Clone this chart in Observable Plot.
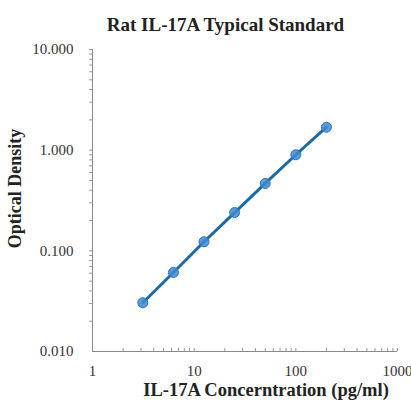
<!DOCTYPE html>
<html><head><meta charset="utf-8">
<script src="https://cdn.jsdelivr.net/npm/d3@7"></script>
<script src="https://cdn.jsdelivr.net/npm/@observablehq/plot@0.6"></script>
<style>
body{margin:0;background:#fff;}
#title{height:38px;line-height:50px;text-align:center;font-family:"Liberation Serif","Times New Roman",serif;font-weight:bold;font-size:19px;color:#222;padding-left:40px;}
</style></head>
<body>
<div id="title">Rat IL-17A Typical Standard</div>
<div id="chart"></div>
<script>
const concentration = [3.125, 6.25, 12.5, 25, 50, 100, 200];
const od = [0.0305, 0.061, 0.123, 0.240, 0.467, 0.90, 1.69];
const xMajor = [1, 10, 100, 1000];
const yMajor = [0.01, 0.1, 1, 10];
const xLabel = "IL-17A Concerntration (pg/ml)";
const yLabel = "Optical Density";

const data = concentration.map((c, i) => ({c, od: od[i]}));
const xMinor = [], yMinor = [];
for (const d of [1, 10, 100]) for (let k = 2; k <= 10; k++) xMinor.push(d * k);
for (const d of [0.01, 0.1, 1]) for (let k = 2; k <= 10; k++) yMinor.push(+(d * k).toFixed(3));

const font = '"Liberation Serif","Times New Roman",serif';
const chart = Plot.plot({
  width: 411, height: 363,
  marginTop: 11, marginBottom: 50, marginLeft: 92, marginRight: 14,
  style: {fontFamily: font, fontSize: "15px", color: "#333", background: "#fff"},
  x: {type: "log", domain: [1, 1000], axis: null},
  y: {type: "log", domain: [0.01, 10], axis: null},
  marks: [
    Plot.axisX({ticks: xMinor, tickSize: -3, tickFormat: () => "", stroke: "#999", label: null}),
    Plot.axisX({ticks: xMajor, tickSize: 0, tickPadding: 14, tickFormat: d => String(d), fontSize: 15, fill: "#333", label: null}),
    Plot.axisY({ticks: yMinor, tickSize: 3, tickFormat: () => "", stroke: "#999", label: null}),
    Plot.axisY({ticks: yMajor, tickSize: 0, tickPadding: 19, tickFormat: d3.format(".3f"), fontSize: 15, fill: "#333", label: null}),
    Plot.ruleX([1], {stroke: "#888"}),
    Plot.ruleY([0.01], {stroke: "#888"}),
    Plot.line(data, {x: "c", y: "od", stroke: "#1c6aa8", strokeWidth: 3}),
    Plot.dot(data, {x: "c", y: "od", r: 5, fill: "#3d8ad0", fillOpacity: 0.85, stroke: "#2a76b8", strokeWidth: 1}),
    Plot.text([yLabel], {frameAnchor: "left", textAnchor: "middle", lineAnchor: "middle", dx: -77, dy: -12, rotate: -90, fontWeight: "bold", fontSize: 18, fill: "#222"}),
    Plot.text([xLabel], {frameAnchor: "bottom", textAnchor: "middle", lineAnchor: "middle", dx: 21, dy: 39, fontWeight: "bold", fontSize: 18.5, fill: "#222"})
  ]
});
document.getElementById("chart").appendChild(chart);
</script>
</body></html>
